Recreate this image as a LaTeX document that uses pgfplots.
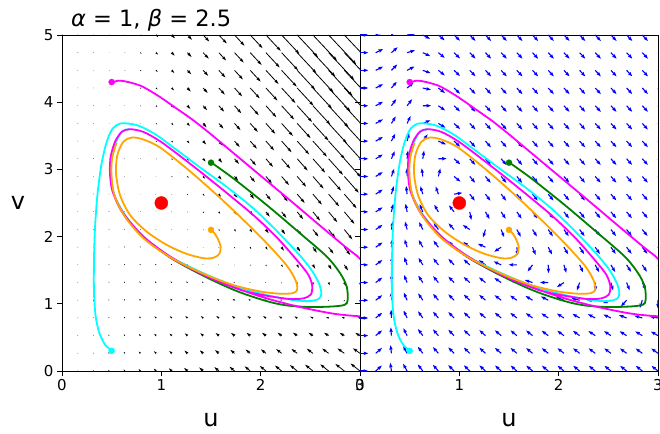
\documentclass[border=0pt]{standalone}
\usepackage{fontspec}
\setmainfont{DejaVu Sans}
\usepackage{pgfplots}
\pgfplotsset{compat=1.18}
\usepackage{pgfplotstable}
\usetikzlibrary{arrows.meta}
\definecolor{mplgreen}{rgb}{0,0.5,0}
\definecolor{mplorange}{rgb}{1,0.647,0}
\definecolor{mplcyan}{rgb}{0,1,1}
\definecolor{mplmagenta}{rgb}{1,0,1}
\definecolor{mplred}{rgb}{1,0,0}
\definecolor{mplblue}{rgb}{0,0,1}

% vector field samples: x y du dv
\pgfplotstableread{
x y du dv
0 0 1 0
0 0.263 1 0
0 0.526 1 0
0 0.789 1 0
0 1.053 1 0
0 1.316 1 0
0 1.579 1 0
0 1.842 1 0
0 2.105 1 0
0 2.368 1 0
0 2.632 1 0
0 2.895 1 0
0 3.158 1 0
0 3.421 1 0
0 3.684 1 0
0 3.947 1 0
0 4.211 1 0
0 4.474 1 0
0 4.737 1 0
0 5.000 1 0
0.158 0 0.447 0.395
0.158 0.263 0.454 0.388
0.158 0.526 0.461 0.382
0.158 0.789 0.467 0.375
0.158 1.053 0.474 0.368
0.158 1.316 0.480 0.362
0.158 1.579 0.487 0.355
0.158 1.842 0.493 0.349
0.158 2.105 0.500 0.342
0.158 2.368 0.506 0.336
0.158 2.632 0.513 0.329
0.158 2.895 0.520 0.323
0.158 3.158 0.526 0.316
0.158 3.421 0.533 0.309
0.158 3.684 0.539 0.303
0.158 3.947 0.546 0.296
0.158 4.211 0.552 0.290
0.158 4.474 0.559 0.283
0.158 4.737 0.566 0.277
0.158 5.000 0.572 0.270
0.316 0 -0.105 0.789
0.316 0.263 -0.079 0.763
0.316 0.526 -0.053 0.737
0.316 0.789 -0.027 0.711
0.316 1.053 0.000 0.685
0.316 1.316 0.026 0.658
0.316 1.579 0.052 0.632
0.316 1.842 0.078 0.606
0.316 2.105 0.105 0.580
0.316 2.368 0.131 0.553
0.316 2.632 0.157 0.527
0.316 2.895 0.183 0.501
0.316 3.158 0.210 0.475
0.316 3.421 0.236 0.448
0.316 3.684 0.262 0.422
0.316 3.947 0.288 0.396
0.316 4.211 0.315 0.370
0.316 4.474 0.341 0.343
0.316 4.737 0.367 0.317
0.316 5.000 0.393 0.291
0.474 0 -0.658 1.184
0.474 0.263 -0.599 1.125
0.474 0.526 -0.540 1.066
0.474 0.789 -0.481 1.007
0.474 1.053 -0.422 0.948
0.474 1.316 -0.363 0.889
0.474 1.579 -0.304 0.830
0.474 1.842 -0.245 0.771
0.474 2.105 -0.186 0.712
0.474 2.368 -0.126 0.653
0.474 2.632 -0.067 0.594
0.474 2.895 -0.008 0.535
0.474 3.158 0.051 0.476
0.474 3.421 0.110 0.417
0.474 3.684 0.169 0.358
0.474 3.947 0.228 0.299
0.474 4.211 0.287 0.239
0.474 4.474 0.346 0.180
0.474 4.737 0.405 0.121
0.474 5.000 0.464 0.062
0.632 0 -1.211 1.579
0.632 0.263 -1.106 1.474
0.632 0.526 -1.001 1.369
0.632 0.789 -0.896 1.264
0.632 1.053 -0.791 1.159
0.632 1.316 -0.686 1.054
0.632 1.579 -0.581 0.949
0.632 1.842 -0.476 0.844
0.632 2.105 -0.371 0.739
0.632 2.368 -0.266 0.634
0.632 2.632 -0.161 0.529
0.632 2.895 -0.056 0.424
0.632 3.158 0.049 0.319
0.632 3.421 0.154 0.214
0.632 3.684 0.259 0.109
0.632 3.947 0.364 0.004
0.632 4.211 0.469 -0.101
0.632 4.474 0.574 -0.206
0.632 4.737 0.679 -0.311
0.632 5.000 0.784 -0.416
0.789 0 -1.763 1.974
0.789 0.263 -1.599 1.810
0.789 0.526 -1.435 1.646
0.789 0.789 -1.271 1.482
0.789 1.053 -1.107 1.318
0.789 1.316 -0.943 1.154
0.789 1.579 -0.779 0.990
0.789 1.842 -0.615 0.826
0.789 2.105 -0.451 0.662
0.789 2.368 -0.287 0.498
0.789 2.632 -0.123 0.334
0.789 2.895 0.041 0.170
0.789 3.158 0.205 0.005
0.789 3.421 0.369 -0.159
0.789 3.684 0.533 -0.323
0.789 3.947 0.697 -0.487
0.789 4.211 0.861 -0.651
0.789 4.474 1.025 -0.815
0.789 4.737 1.189 -0.979
0.789 5.000 1.353 -1.143
0.947 0 -2.316 2.368
0.947 0.263 -2.080 2.132
0.947 0.526 -1.843 1.896
0.947 0.789 -1.607 1.660
0.947 1.053 -1.371 1.424
0.947 1.316 -1.135 1.188
0.947 1.579 -0.899 0.951
0.947 1.842 -0.663 0.715
0.947 2.105 -0.426 0.479
0.947 2.368 -0.190 0.243
0.947 2.632 0.046 0.007
0.947 2.895 0.282 -0.230
0.947 3.158 0.518 -0.466
0.947 3.421 0.755 -0.702
0.947 3.684 0.991 -0.938
0.947 3.947 1.227 -1.174
0.947 4.211 1.463 -1.411
0.947 4.474 1.699 -1.647
0.947 4.737 1.935 -1.883
0.947 5.000 2.172 -2.119
1.105 0 -2.868 2.763
1.105 0.263 -2.547 2.442
1.105 0.526 -2.225 2.120
1.105 0.789 -1.904 1.799
1.105 1.053 -1.583 1.477
1.105 1.316 -1.261 1.156
1.105 1.579 -0.940 0.834
1.105 1.842 -0.618 0.513
1.105 2.105 -0.297 0.191
1.105 2.368 0.025 -0.130
1.105 2.632 0.346 -0.452
1.105 2.895 0.668 -0.773
1.105 3.158 0.989 -1.095
1.105 3.421 1.311 -1.416
1.105 3.684 1.632 -1.738
1.105 3.947 1.954 -2.059
1.105 4.211 2.275 -2.380
1.105 4.474 2.597 -2.702
1.105 4.737 2.918 -3.023
1.105 5.000 3.240 -3.345
1.263 0 -3.421 3.158
1.263 0.263 -3.001 2.738
1.263 0.526 -2.581 2.318
1.263 0.789 -2.161 1.898
1.263 1.053 -1.742 1.478
1.263 1.316 -1.322 1.059
1.263 1.579 -0.902 0.639
1.263 1.842 -0.482 0.219
1.263 2.105 -0.062 -0.201
1.263 2.368 0.358 -0.621
1.263 2.632 0.778 -1.041
1.263 2.895 1.198 -1.461
1.263 3.158 1.618 -1.881
1.263 3.421 2.037 -2.301
1.263 3.684 2.457 -2.721
1.263 3.947 2.877 -3.140
1.263 4.211 3.297 -3.560
1.263 4.474 3.717 -3.980
1.263 4.737 4.137 -4.400
1.263 5.000 4.557 -4.820
1.421 0 -3.974 3.553
1.421 0.263 -3.442 3.021
1.421 0.526 -2.911 2.490
1.421 0.789 -2.379 1.958
1.421 1.053 -1.848 1.427
1.421 1.316 -1.317 0.896
1.421 1.579 -0.785 0.364
1.421 1.842 -0.254 -0.167
1.421 2.105 0.278 -0.699
1.421 2.368 0.809 -1.230
1.421 2.632 1.341 -1.762
1.421 2.895 1.872 -2.293
1.421 3.158 2.403 -2.824
1.421 3.421 2.935 -3.356
1.421 3.684 3.466 -3.887
1.421 3.947 3.998 -4.419
1.421 4.211 4.529 -4.950
1.421 4.474 5.060 -5.482
1.421 4.737 5.592 -6.013
1.421 5.000 6.123 -6.544
1.579 0 -4.526 3.947
1.579 0.263 -3.870 3.291
1.579 0.526 -3.214 2.635
1.579 0.789 -2.558 1.979
1.579 1.053 -1.902 1.323
1.579 1.316 -1.246 0.667
1.579 1.579 -0.590 0.011
1.579 1.842 0.066 -0.645
1.579 2.105 0.722 -1.301
1.579 2.368 1.378 -1.957
1.579 2.632 2.034 -2.613
1.579 2.895 2.690 -3.269
1.579 3.158 3.347 -3.926
1.579 3.421 4.003 -4.582
1.579 3.684 4.659 -5.238
1.579 3.947 5.315 -5.894
1.579 4.211 5.971 -6.550
1.579 4.474 6.627 -7.206
1.579 4.737 7.283 -7.862
1.579 5.000 7.939 -8.518
1.737 0 -5.079 4.342
1.737 0.263 -4.285 3.548
1.737 0.526 -3.491 2.754
1.737 0.789 -2.697 1.961
1.737 1.053 -1.904 1.167
1.737 1.316 -1.110 0.373
1.737 1.579 -0.316 -0.421
1.737 1.842 0.478 -1.215
1.737 2.105 1.272 -2.009
1.737 2.368 2.066 -2.802
1.737 2.632 2.860 -3.596
1.737 2.895 3.653 -4.390
1.737 3.158 4.447 -5.184
1.737 3.421 5.241 -5.978
1.737 3.684 6.035 -6.772
1.737 3.947 6.829 -7.566
1.737 4.211 7.623 -8.360
1.737 4.474 8.416 -9.153
1.737 4.737 9.210 -9.947
1.737 5.000 10.004 -10.741
1.895 0 -5.632 4.737
1.895 0.263 -4.687 3.792
1.895 0.526 -3.742 2.847
1.895 0.789 -2.797 1.903
1.895 1.053 -1.853 0.958
1.895 1.316 -0.908 0.013
1.895 1.579 0.037 -0.932
1.895 1.842 0.982 -1.876
1.895 2.105 1.926 -2.821
1.895 2.368 2.871 -3.766
1.895 2.632 3.816 -4.711
1.895 2.895 4.761 -5.655
1.895 3.158 5.705 -6.600
1.895 3.421 6.650 -7.545
1.895 3.684 7.595 -8.490
1.895 3.947 8.540 -9.434
1.895 4.211 9.484 -10.379
1.895 4.474 10.429 -11.324
1.895 4.737 11.374 -12.269
1.895 5.000 12.319 -13.213
2.053 0 -6.184 5.132
2.053 0.263 -5.075 4.023
2.053 0.526 -3.967 2.914
2.053 0.789 -2.858 1.805
2.053 1.053 -1.749 0.697
2.053 1.316 -0.640 -0.412
2.053 1.579 0.468 -1.521
2.053 1.842 1.577 -2.630
2.053 2.105 2.686 -3.739
2.053 2.368 3.795 -4.847
2.053 2.632 4.903 -5.956
2.053 2.895 6.012 -7.065
2.053 3.158 7.121 -8.174
2.053 3.421 8.230 -9.282
2.053 3.684 9.339 -10.391
2.053 3.947 10.447 -11.500
2.053 4.211 11.556 -12.609
2.053 4.474 12.665 -13.717
2.053 4.737 13.774 -14.826
2.053 5.000 14.882 -15.935
2.211 0 -6.737 5.526
2.211 0.263 -5.451 4.240
2.211 0.526 -4.165 2.955
2.211 0.789 -2.879 1.669
2.211 1.053 -1.593 0.383
2.211 1.316 -0.307 -0.903
2.211 1.579 0.979 -2.189
2.211 1.842 2.264 -3.475
2.211 2.105 3.550 -4.761
2.211 2.368 4.836 -6.047
2.211 2.632 6.122 -7.333
2.211 2.895 7.408 -8.619
2.211 3.158 8.694 -9.905
2.211 3.421 9.980 -11.190
2.211 3.684 11.266 -12.476
2.211 3.947 12.552 -13.762
2.211 4.211 13.838 -15.048
2.211 4.474 15.123 -16.334
2.211 4.737 16.409 -17.620
2.211 5.000 17.695 -18.906
2.368 0 -7.289 5.921
2.368 0.263 -5.813 4.445
2.368 0.526 -4.337 2.969
2.368 0.789 -2.861 1.493
2.368 1.053 -1.385 0.016
2.368 1.316 0.091 -1.460
2.368 1.579 1.568 -2.936
2.368 1.842 3.044 -4.412
2.368 2.105 4.520 -5.888
2.368 2.368 5.996 -7.364
2.368 2.632 7.472 -8.841
2.368 2.895 8.948 -10.317
2.368 3.158 10.424 -11.793
2.368 3.421 11.901 -13.269
2.368 3.684 13.377 -14.745
2.368 3.947 14.853 -16.221
2.368 4.211 16.329 -17.698
2.368 4.474 17.805 -19.174
2.368 4.737 19.281 -20.650
2.368 5.000 20.758 -22.126
2.526 0 -7.842 6.316
2.526 0.263 -6.163 4.636
2.526 0.526 -4.483 2.957
2.526 0.789 -2.804 1.277
2.526 1.053 -1.124 -0.402
2.526 1.316 0.556 -2.082
2.526 1.579 2.235 -3.762
2.526 1.842 3.915 -5.441
2.526 2.105 5.594 -7.121
2.526 2.368 7.274 -8.800
2.526 2.632 8.953 -10.480
2.526 2.895 10.633 -12.159
2.526 3.158 12.312 -13.839
2.526 3.421 13.992 -15.518
2.526 3.684 15.672 -17.198
2.526 3.947 17.351 -18.877
2.526 4.211 19.031 -20.557
2.526 4.474 20.710 -22.236
2.526 4.737 22.390 -23.916
2.526 5.000 24.069 -25.596
2.684 0 -8.395 6.711
2.684 0.263 -6.499 4.815
2.684 0.526 -4.603 2.918
2.684 0.789 -2.707 1.022
2.684 1.053 -0.811 -0.874
2.684 1.316 1.085 -2.770
2.684 1.579 2.982 -4.666
2.684 1.842 4.878 -6.562
2.684 2.105 6.774 -8.458
2.684 2.368 8.670 -10.354
2.684 2.632 10.566 -12.250
2.684 2.895 12.462 -14.146
2.684 3.158 14.358 -16.042
2.684 3.421 16.254 -17.938
2.684 3.684 18.150 -19.834
2.684 3.947 20.046 -21.730
2.684 4.211 21.942 -23.626
2.684 4.474 23.838 -25.522
2.684 4.737 25.734 -27.418
2.684 5.000 27.630 -29.314
2.842 0 -8.947 7.105
2.842 0.263 -6.822 4.980
2.842 0.526 -4.696 2.854
2.842 0.789 -2.570 0.728
2.842 1.053 -0.445 -1.397
2.842 1.316 1.681 -3.523
2.842 1.579 3.807 -5.649
2.842 1.842 5.932 -7.774
2.842 2.105 8.058 -9.900
2.842 2.368 10.184 -12.026
2.842 2.632 12.309 -14.151
2.842 2.895 14.435 -16.277
2.842 3.158 16.561 -18.403
2.842 3.421 18.686 -20.528
2.842 3.684 20.812 -22.654
2.842 3.947 22.938 -24.780
2.842 4.211 25.063 -26.906
2.842 4.474 27.189 -29.031
2.842 4.737 29.315 -31.157
2.842 5.000 31.440 -33.283
3.000 0 -9.500 7.500
3.000 0.263 -7.132 5.132
3.000 0.526 -4.763 2.763
3.000 0.789 -2.395 0.395
3.000 1.053 -0.026 -1.974
3.000 1.316 2.342 -4.342
3.000 1.579 4.711 -6.711
3.000 1.842 7.079 -9.079
3.000 2.105 9.447 -11.447
3.000 2.368 11.816 -13.816
3.000 2.632 14.184 -16.184
3.000 2.895 16.553 -18.553
3.000 3.158 18.921 -20.921
3.000 3.421 21.289 -23.289
3.000 3.684 23.658 -25.658
3.000 3.947 26.026 -28.026
3.000 4.211 28.395 -30.395
3.000 4.474 30.763 -32.763
3.000 4.737 33.132 -35.132
3.000 5.000 35.500 -37.500
}\field

\pgfplotstableread{
u v
1.507 3.098
1.725 2.866
2.061 2.470
2.396 2.050
2.665 1.703
2.799 1.457
2.866 1.258
2.876 1.061
2.849 0.987
2.731 0.961
2.497 0.952
2.262 0.976
2.060 1.040
1.758 1.190
1.423 1.417
1.087 1.690
0.819 1.991
}\greentraj

\pgfplotstableread{
u v
0.500 0.303
0.433 0.393
0.376 0.566
0.339 0.814
0.322 1.160
0.322 1.654
0.333 2.149
0.358 2.643
0.399 3.089
0.450 3.410
0.510 3.608
0.584 3.682
0.668 3.682
0.785 3.642
0.953 3.510
1.154 3.290
1.389 3.030
1.658 2.740
1.926 2.420
2.161 2.085
2.379 1.745
2.513 1.500
2.591 1.290
2.610 1.150
2.587 1.076
2.497 1.040
2.329 1.055
2.060 1.130
1.758 1.255
1.423 1.455
1.087 1.704
0.819 2.001
0.634 2.322
0.523 2.643
0.490 2.990
0.517 3.310
0.601 3.558
0.685 3.598
}\cyantraj

\pgfplotstableread{
u v
0.500 4.290
0.560 4.318
0.617 4.315
0.719 4.280
0.819 4.226
0.987 4.077
1.154 3.905
1.322 3.731
1.490 3.534
1.700 3.275
2.000 2.905
2.300 2.535
2.600 2.160
2.850 1.850
3.000 1.670
3.100 1.450
3.170 1.150
3.170 0.920
3.100 0.820
3.000 0.814
2.732 0.853
2.396 0.952
2.060 1.081
1.725 1.249
1.389 1.457
1.087 1.704
0.819 2.001
0.617 2.347
0.510 2.668
0.483 2.940
0.490 3.188
0.534 3.410
0.601 3.558
0.685 3.598
0.819 3.558
0.987 3.420
1.188 3.200
1.423 2.930
1.658 2.650
1.926 2.320
2.161 1.990
2.362 1.654
2.480 1.432
2.520 1.259
2.503 1.135
2.430 1.081
2.295 1.071
2.060 1.120
1.792 1.209
1.423 1.432
1.087 1.694
0.819 1.991
0.617 2.337
0.517 2.643
0.483 2.940
}\magentatraj

\pgfplotstableread{
u v
1.507 2.099
1.557 2.001
1.597 1.852
1.584 1.743
1.523 1.684
1.423 1.679
1.255 1.743
1.054 1.877
0.852 2.075
0.685 2.322
0.584 2.619
0.544 2.940
0.557 3.212
0.617 3.410
0.701 3.474
0.819 3.445
0.987 3.326
1.255 3.014
1.523 2.668
1.792 2.297
2.060 1.902
2.262 1.570
2.349 1.358
2.369 1.219
2.329 1.160
2.195 1.150
1.993 1.184
1.725 1.278
1.423 1.447
1.087 1.694
0.819 1.976
0.634 2.297
0.527 2.619
0.497 2.940
0.507 3.188
0.550 3.395
}\orangetraj

\pgfplotsset{
  phase/.style={
    scale only axis, width=298pt, height=336pt,
    xmin=0, xmax=3, ymin=0, ymax=5,
    xtick={0,1,2,3}, ytick={0,1,2,3,4,5},
    tick pos=left, tick align=outside, major tick length=5pt,
    axis line style={line width=0.9pt},
    every tick/.style={black, line width=0.9pt},
    tick label style={font=\fontsize{15}{15}\selectfont},
    /pgf/number format/assume math mode=true,
    xlabel={u},
    x label style={at={(axis description cs:0.5,-0.146)}, anchor=center, font=\fontsize{24}{24}\selectfont},
    point meta min=0, point meta max=1000,
    clip=true,
  },
  traj/.style={line width=1.8pt, smooth, tension=0.5, no marks},
}

\newcommand{\trajectories}{%
  \addplot[mplgreen, traj] table[x=u, y=v] {\greentraj};
  \addplot[mplcyan, traj] table[x=u, y=v] {\cyantraj};
  \addplot[mplmagenta, traj] table[x=u, y=v] {\magentatraj};
  \addplot[mplorange, traj] table[x=u, y=v] {\orangetraj};
  \addplot[only marks, mark=*, mark size=3pt, mark options={draw=mplcyan, fill=mplcyan}] coordinates {(0.5,0.3)};
  \addplot[only marks, mark=*, mark size=3pt, mark options={draw=mplmagenta, fill=mplmagenta}] coordinates {(0.5,4.3)};
  \addplot[only marks, mark=*, mark size=3pt, mark options={draw=mplgreen, fill=mplgreen}] coordinates {(1.5,3.1)};
  \addplot[only marks, mark=*, mark size=3pt, mark options={draw=mplorange, fill=mplorange}] coordinates {(1.5,2.1)};
  \addplot[only marks, mark=*, mark size=6.5pt, mark options={draw=mplred, fill=mplred}] coordinates {(1,2.5)};
}

\begin{document}
\begin{tikzpicture}
\path[use as bounding box] (0pt,0pt) rectangle (660pt,433pt);

\begin{axis}[phase, at={(62pt,62pt)}, anchor=south west,
  ylabel={v},
  y label style={at={(axis description cs:-0.148,0.5)}, rotate=-90, anchor=center, font=\fontsize{24}{24}\selectfont},
]
\addplot[black,
  point meta={veclen(\thisrow{du},\thisrow{dv})},
  quiver={
    u={\thisrow{du}/99.33}, v={\thisrow{dv}/67.2},
    every arrow/.append style={
      line width={0.8pt*max(0.1,min(1,\pgfplotspointmetatransformed/4.5))},
      -{Stealth[length=4.5pt, width=2.7pt, inset=0.45pt, scale={max(0.1,min(1,\pgfplotspointmetatransformed/4.5))}]}
    },
  }] table[x=x, y=y] {\field};
\trajectories
\end{axis}

\begin{axis}[phase, at={(360pt,62pt)}, anchor=south west, yticklabels={}]
\addplot[mplblue,
  quiver={
    u={8.3*\thisrow{du}/veclen(\thisrow{du},\thisrow{dv})/99.33},
    v={8.3*\thisrow{dv}/veclen(\thisrow{du},\thisrow{dv})/67.2},
    every arrow/.append style={line width=1.1pt, -{Stealth[length=4.5pt, width=3.2pt, inset=0.45pt]}},
  }] table[x=x, y=y] {\field};
\trajectories
\end{axis}

\node[anchor=base west, inner sep=0pt, font=\fontsize{22.5}{22.5}\selectfont] at (71pt,406pt) {\textit{α} = 1, \textit{β} = 2.5};
\end{tikzpicture}
\end{document}
